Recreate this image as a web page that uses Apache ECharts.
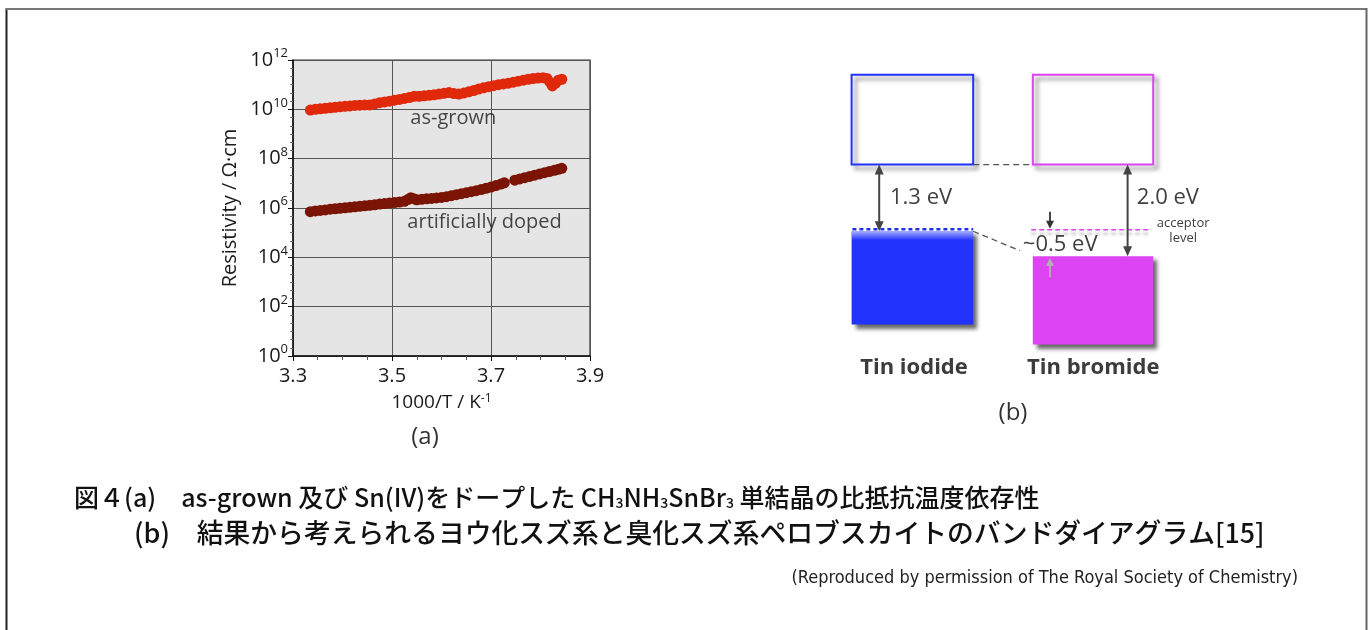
<!DOCTYPE html>
<html><head><meta charset="utf-8">
<script src="https://cdn.jsdelivr.net/npm/echarts/dist/echarts.min.js"></script>
<style>html,body{margin:0;padding:0;background:#fff}#c{width:1371px;height:630px}</style>
</head><body><div id="c"></div>
<script>
// ---------- (a) resistivity vs 1000/T ; values are log10(resistivity / Ω·cm) ----------
const asGrownX = [3.335,3.345,3.355,3.365,3.375,3.385,3.395,3.405,3.415,3.425,3.435,3.445,3.455,3.465,3.475,3.485,3.495,3.505,3.515,3.525,3.535,3.545,3.555,3.565,3.575,3.585,3.595,3.605,3.615,3.625,3.635,3.645,3.655,3.665,3.675,3.685,3.695,3.705,3.715,3.725,3.735,3.745,3.755,3.765,3.775,3.785,3.795,3.805,3.813,3.819,3.824,3.830,3.836,3.843];
const asGrownLog = [9.97,10.0,10.02,10.04,10.06,10.08,10.1,10.12,10.14,10.16,10.17,10.18,10.18,10.22,10.27,10.3,10.33,10.37,10.4,10.44,10.48,10.53,10.53,10.55,10.57,10.59,10.62,10.65,10.68,10.64,10.62,10.66,10.71,10.76,10.82,10.87,10.92,10.96,11.0,11.03,11.06,11.1,11.14,11.18,11.22,11.25,11.27,11.28,11.25,11.1,10.95,11.05,11.18,11.22];
const dopedX = [3.335,3.345,3.355,3.365,3.375,3.385,3.395,3.405,3.415,3.425,3.435,3.445,3.455,3.465,3.475,3.485,3.495,3.505,3.515,3.525,3.532,3.538,3.544,3.55,3.56,3.57,3.58,3.59,3.6,3.61,3.62,3.63,3.64,3.65,3.66,3.67,3.68,3.69,3.7,3.71,3.72,3.727,3.748,3.758,3.768,3.778,3.788,3.798,3.808,3.818,3.828,3.836,3.843];
const dopedLog = [5.85,5.88,5.9,5.92,5.95,5.97,5.99,6.01,6.03,6.05,6.07,6.09,6.11,6.13,6.16,6.18,6.2,6.22,6.24,6.27,6.34,6.42,6.38,6.33,6.35,6.37,6.39,6.41,6.43,6.46,6.5,6.54,6.58,6.62,6.66,6.7,6.75,6.8,6.85,6.91,6.97,7.02,7.13,7.18,7.23,7.28,7.33,7.38,7.43,7.48,7.53,7.57,7.61];
const seriesNames = ['as-grown', 'artificially doped'];
const labelAnchorX = [3.537, 3.531];
const labelAnchorLog = [9.65, 5.43];
const xTickMin = 3.3, xTickMax = 3.9, xTickStep = 0.2;
const yExpMin = 0, yExpMax = 12, yExpStep = 2;

// ---------- (b) band diagram (schematic units: x 0-100, energy in eV, CB bottom = 0) ----------
const bandNames = ['Tin iodide', 'Tin bromide'];
const bandXLeft = [5.4, 50.7];
const bandXRight = [35.8, 80.8];
const cbBottomEV = [0, 0];
const cbTopEV = [1.75, 1.75];
const vbTopEV = [-1.3, -1.79];
const vbBottomEV = [-3.12, -3.51];
const gapArrowX = [12.3, 74.4];
const gapLabels = ['1.3 eV', '2.0 eV'];
const levelLines = [ // x1, e1, x2, e2
  [35.8, 0, 50.7, 0],
  [35.8, -1.3, 47.5, -1.68],
  [5.6, -1.26, 35.8, -1.26],
  [50.3, -1.27, 80.3, -1.27]
];
const smallArrows = [ // x, eFrom, eTo
  [55, -0.92, -1.25],
  [55, -2.2, -1.82]
];
const diagramTexts = ['1.3 eV', '2.0 eV', '~0.5 eV', 'acceptor', 'level', 'Tin iodide', 'Tin bromide'];
const diagramTextX = [15, 76.7, 48.2, 88.3, 88.3, 21, 65.8];
const diagramTextEV = [-0.64, -0.64, -1.56, -1.15, -1.44, -3.96, -3.96];

const FONT = 'Open Sans';
const bandColors = ['#2233fb', '#dc44f2'];

const chart = echarts.init(document.getElementById('c'), null, {renderer: 'canvas'});

function renderBand(params, api) {
  const i = params.dataIndex;
  const c = bandColors[i];
  const cb1 = api.coord([api.value(0), api.value(3)]);
  const cb2 = api.coord([api.value(1), api.value(2)]);
  const vb1 = api.coord([api.value(0), api.value(4)]);
  const vb2 = api.coord([api.value(1), api.value(5)]);
  const ch = [
    {type: 'rect', shape: {x: cb1[0], y: cb1[1], width: cb2[0] - cb1[0], height: cb2[1] - cb1[1]},
     style: {fill: 'none', stroke: c, lineWidth: 2, shadowBlur: 4, shadowColor: 'rgba(0,0,0,0.5)', shadowOffsetX: 4, shadowOffsetY: 4}},
    {type: 'rect', shape: {x: vb1[0], y: vb1[1], width: vb2[0] - vb1[0], height: vb2[1] - vb1[1]},
     style: {fill: c, shadowBlur: 4, shadowColor: 'rgba(0,0,0,0.6)', shadowOffsetX: 4, shadowOffsetY: 4}}
  ];
  if (i === 0) {
    ch.push({type: 'rect', shape: {x: vb1[0], y: vb1[1], width: vb2[0] - vb1[0], height: 9},
      style: {fill: new echarts.graphic.LinearGradient(0, 0, 0, 1, [
        {offset: 0, color: 'rgba(255,255,255,0.6)'}, {offset: 1, color: 'rgba(255,255,255,0)'}])}});
  }
  return {type: 'group', children: ch};
}

function arrowParts(a, b, both, color, lw, hl, hw) {
  const dir = Math.sign(b[1] - a[1]);
  const ch = [];
  const sy = both ? a[1] + dir * hl * 0.7 : a[1];
  const ey = b[1] - dir * hl * 0.7;
  ch.push({type: 'line', shape: {x1: a[0], y1: sy, x2: b[0], y2: ey}, style: {stroke: color, lineWidth: lw}});
  ch.push({type: 'polygon', shape: {points: [[b[0], b[1]], [b[0] - hw, b[1] - dir * hl], [b[0] + hw, b[1] - dir * hl]]}, style: {fill: color}});
  if (both) ch.push({type: 'polygon', shape: {points: [[a[0], a[1]], [a[0] - hw, a[1] + dir * hl], [a[0] + hw, a[1] + dir * hl]]}, style: {fill: color}});
  return ch;
}

function renderGapArrow(params, api) {
  const a = api.coord([api.value(0), api.value(1)]);
  const b = api.coord([api.value(0), api.value(2)]);
  return {type: 'group', children: arrowParts(a, b, true, '#444', 2, 10, 4.5)};
}
function renderSmallArrow(params, api) {
  const a = api.coord([api.value(0), api.value(1)]);
  const b = api.coord([api.value(0), api.value(2)]);
  const color = params.dataIndex === 0 ? '#333' : '#b0b0b0';
  return {type: 'group', children: arrowParts(a, b, false, color, 1.8, 8, 4)};
}
function renderLevelLine(params, api) {
  const a = api.coord([api.value(0), api.value(1)]);
  const b = api.coord([api.value(2), api.value(3)]);
  const i = params.dataIndex;
  let style;
  if (i < 2) style = {stroke: '#555', lineWidth: 1.3, lineDash: [6, 4]};
  else if (i === 2) style = {stroke: '#1f2ff0', lineWidth: 2.5, lineDash: [4, 3]};
  else style = {stroke: '#dc44f2', lineWidth: 1.6, lineDash: [5, 3], shadowBlur: 3, shadowColor: 'rgba(0,0,0,0.35)', shadowOffsetY: 4};
  return {type: 'line', shape: {x1: a[0], y1: a[1], x2: b[0], y2: b[1]}, style: style};
}
function renderText(params, api) {
  const i = params.dataIndex;
  const p = api.coord([api.value(0), api.value(1)]);
  const t = diagramTexts[i];
  let font = '22px "' + FONT + '"', align = 'left', color = '#404040';
  if (t === 'acceptor' || t === 'level') { font = '13px "' + FONT + '"'; align = 'center'; }
  if (t.indexOf('Tin') === 0) { font = 'bold 22px "' + FONT + '"'; align = 'center'; color = '#3c3c3c'; }
  return {type: 'text', x: p[0], y: p[1], style: {text: t, font: font, fill: color, align: align, verticalAlign: 'middle'}};
}

const supRich = {
  b: {fontSize: 20, fontFamily: FONT, color: '#1a1a1a', lineHeight: 26},
  s: {fontSize: 13, fontFamily: FONT, color: '#1a1a1a', lineHeight: 13, verticalAlign: 'top', padding: [0, 0, 11, 0]}
};

const option = {
  animation: false,
  backgroundColor: '#ffffff',
  grid: [
    {left: 293, top: 60, width: 297, height: 296, show: true, backgroundColor: '#e5e5e5', borderColor: '#333', borderWidth: 1.2},
    {left: 830, top: 62, width: 400, height: 359, show: false}
  ],
  xAxis: [
    {type: 'value', gridIndex: 0, min: xTickMin, max: xTickMax, interval: xTickStep,
     axisLine: {lineStyle: {color: '#111', width: 1.5}},
     axisTick: {show: true, length: 5, lineStyle: {color: '#111'}},
     minorTick: {show: true, splitNumber: 4, length: 4, lineStyle: {color: '#555'}},
     splitLine: {show: true, lineStyle: {color: '#555', width: 1}},
     axisLabel: {formatter: v => v.toFixed(1), fontFamily: FONT, fontSize: 20, color: '#1a1a1a', margin: 10},
     name: '1000/T / K{s|-1}', nameLocation: 'middle', nameGap: 37,
     nameTextStyle: {fontFamily: FONT, fontSize: 19, color: '#1a1a1a', rich: {s: {fontSize: 12, fontFamily: FONT, color: '#1a1a1a', verticalAlign: 'top', lineHeight: 12, padding: [0, 0, 8, 0]}}}},
    {type: 'value', gridIndex: 1, min: 0, max: 100, show: false}
  ],
  yAxis: [
    {type: 'value', gridIndex: 0, min: yExpMin, max: yExpMax, interval: yExpStep,
     axisLine: {show: true, lineStyle: {color: '#111', width: 1.5}},
     axisTick: {show: true, length: 5, lineStyle: {color: '#111'}},
     minorTick: {show: true, splitNumber: 6, length: 3, lineStyle: {color: '#777'}},
     splitLine: {show: true, lineStyle: {color: '#555', width: 1}},
     axisLabel: {formatter: v => '{b|10}{s|' + v + '}', margin: 5, rich: supRich},
     name: 'Resistivity / Ω·cm', nameLocation: 'middle', nameGap: 53,
     nameTextStyle: {fontFamily: FONT, fontSize: 20, color: '#1a1a1a'}},
    {type: 'value', gridIndex: 1, min: -5, max: 2, show: false}
  ],
  series: [
    {type: 'scatter', name: seriesNames[0], xAxisIndex: 0, yAxisIndex: 0, symbolSize: 11,
     itemStyle: {color: '#e0290b', opacity: 1}, data: asGrownX.map((x, i) => [x, asGrownLog[i]])},
    {type: 'scatter', name: seriesNames[1], xAxisIndex: 0, yAxisIndex: 0, symbolSize: 11,
     itemStyle: {color: '#7a1405', opacity: 1}, data: dopedX.map((x, i) => [x, dopedLog[i]])},
    {type: 'scatter', xAxisIndex: 0, yAxisIndex: 0, symbolSize: 0, silent: true,
     label: {show: true, position: 'right', distance: 0, formatter: '{b}', fontFamily: FONT, fontSize: 20, color: '#1a1a1a'},
     data: seriesNames.map((n, i) => ({name: n, value: [labelAnchorX[i], labelAnchorLog[i]]}))},
    {type: 'custom', xAxisIndex: 1, yAxisIndex: 1, renderItem: renderLevelLine, clip: false, z: 3,
     encode: {x: [0, 2], y: [1, 3]}, data: levelLines},
    {type: 'custom', xAxisIndex: 1, yAxisIndex: 1, renderItem: renderBand, clip: false, z: 2,
     encode: {x: [0, 1], y: [2, 3, 4, 5]},
     data: bandNames.map((n, i) => [bandXLeft[i], bandXRight[i], cbBottomEV[i], cbTopEV[i], vbTopEV[i], vbBottomEV[i]])},
    {type: 'custom', xAxisIndex: 1, yAxisIndex: 1, renderItem: renderGapArrow, clip: false, z: 4,
     encode: {x: 0, y: [1, 2]},
     data: gapArrowX.map((x, i) => [x, cbBottomEV[i], vbTopEV[i]])},
    {type: 'custom', xAxisIndex: 1, yAxisIndex: 1, renderItem: renderSmallArrow, clip: false, z: 4,
     encode: {x: 0, y: [1, 2]}, data: smallArrows},
    {type: 'custom', xAxisIndex: 1, yAxisIndex: 1, renderItem: renderText, clip: false, z: 5,
     encode: {x: 0, y: 1}, data: diagramTexts.map((t, i) => [diagramTextX[i], diagramTextEV[i]])}
  ],
  graphic: [
    {type: 'line', shape: {x1: 6.5, y1: 8, x2: 6.5, y2: 630}, style: {stroke: '#222', lineWidth: 2}},
    {type: 'line', shape: {x1: 6, y1: 9, x2: 1367, y2: 9}, style: {stroke: '#777', lineWidth: 2}},
    {type: 'line', shape: {x1: 1366.5, y1: 8, x2: 1366.5, y2: 630}, style: {stroke: '#666', lineWidth: 2}},
    {type: 'text', x: 425, y: 437, style: {text: '(a)', font: '24px "' + FONT + '"', fill: '#333', align: 'center', verticalAlign: 'middle'}},
    {type: 'text', x: 1013, y: 413, style: {text: '(b)', font: '24px "' + FONT + '"', fill: '#333', align: 'center', verticalAlign: 'middle'}},
    {type: 'text', x: 74, y: 497, style: {
      text: '図４(a)　as-grown 及び Sn(IV)をドープした CH{s|3}NH{s|3}SnBr{s|3} 単結晶の比抵抗温度依存性',
      fontSize: 25, fontWeight: 500, fontFamily: 'Noto Sans CJK JP', fill: '#111', verticalAlign: 'middle',
      rich: {s: {fontSize: 14, fontWeight: 500, fontFamily: 'Noto Sans CJK JP', verticalAlign: 'bottom', padding: [12, 0, 0, 0]}}}},
    {type: 'text', x: 134, y: 533, style: {
      text: '(b)　結果から考えられるヨウ化スズ系と臭化スズ系ペロブスカイトのバンドダイアグラム[15]',
      fontSize: 26.8, fontWeight: 500, fontFamily: 'Noto Sans CJK JP', fill: '#111', verticalAlign: 'middle'}},
    {type: 'text', x: 1298, y: 578, style: {
      text: '(Reproduced by permission of The Royal Society of Chemistry)',
      font: '18px "Liberation Sans Narrow", "DejaVu Sans Condensed", sans-serif', fill: '#222', align: 'right', verticalAlign: 'middle'}}
  ]
};
chart.setOption(option);
</script>
</body></html>
